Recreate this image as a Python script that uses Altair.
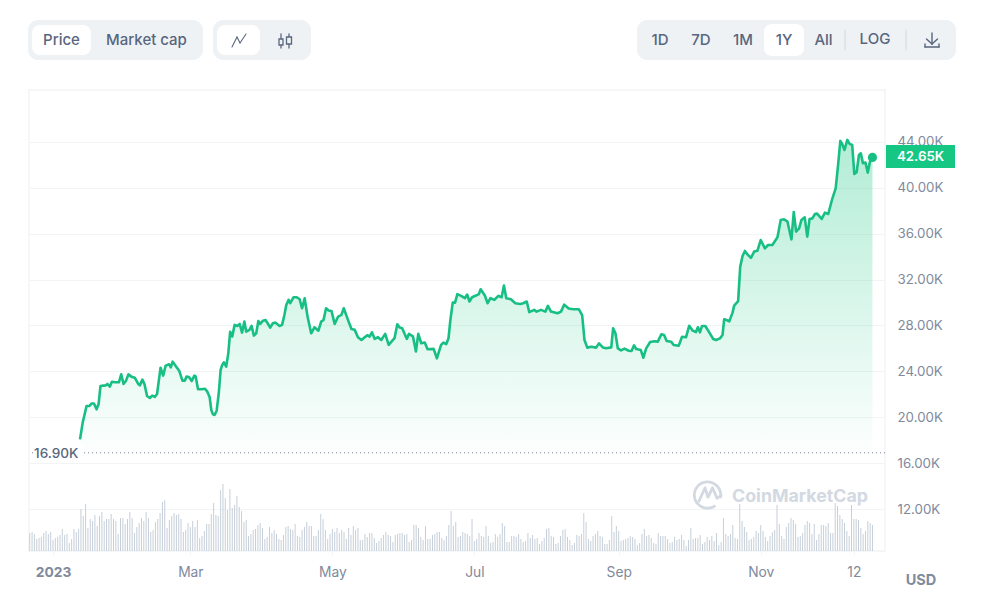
import altair as alt
import pandas as pd

# days since 2023-01-01 and BTC price in thousand USD
price_days = [
    11.6, 12.7, 14.4, 15.6, 16.6, 17.6, 18.7, 19.6, 20.4, 21.6, 22.7, 23.4, 24.4, 25.3, 26.6, 28.3,
    29.3, 30.3, 31.3, 32.4, 33.7, 35.1, 36.6, 37.3, 38.4, 39.3, 40.4, 41.6, 42.6, 43.7, 44.7, 46.2,
    47.3, 48.4, 49.9, 50.6, 51.4, 52.7, 54.2, 55.6, 56.6, 57.3, 58.4, 59.6, 60.7, 61.3, 62.3, 63.7,
    65.2, 66.3, 67.3, 68.0, 68.7, 69.4, 70.3, 71.2, 72.0, 72.7, 73.4, 74.4, 75.3, 76.1, 77.0, 78.0,
    79.2, 80.2, 81.2, 82.2, 83.0, 84.4, 85.3, 86.3, 87.3, 88.2, 89.0, 90.2, 91.3, 92.4, 93.3, 94.4,
    95.6, 97.3, 98.4, 99.4, 100.2, 101.2, 101.9, 103.3, 104.7, 105.9, 107.0, 108.1, 109.4, 110.9, 112.3, 114.0,
    115.2, 116.2, 117.3, 118.4, 119.6, 121.0, 122.5, 123.9, 124.9, 126.7, 128.2, 129.6, 131.0, 132.5, 133.9, 135.0,
    136.0, 137.0, 138.2, 139.6, 141.0, 142.7, 144.2, 146.7, 147.9, 148.9, 150.0, 152.0, 152.9, 154.6, 155.9, 156.9,
    158.2, 159.7, 160.9, 163.5, 164.9, 166.7, 167.7, 168.9, 169.9, 170.7, 171.7, 172.7, 173.7, 175.3, 176.9, 177.9,
    178.9, 180.0, 181.7, 182.9, 183.7, 185.5, 186.7, 187.9, 189.6, 191.3, 192.7, 193.7, 194.7, 196.7, 198.6, 200.7,
    202.0, 203.5, 204.6, 206.7, 207.7, 209.6, 211.5, 212.6, 213.9, 216.7, 218.2, 219.6, 221.5, 223.5, 225.9, 227.3,
    228.3, 229.5, 231.2, 233.3, 234.5, 236.2, 237.6, 239.8, 240.6, 241.6, 242.6, 244.0, 245.5, 247.3, 248.5, 249.6,
    250.5, 252.5, 253.6, 254.8, 256.5, 258.3, 259.8, 261.3, 262.5, 263.6, 265.5, 266.6, 268.8, 270.2, 271.9, 273.3,
    274.8, 276.2, 277.0, 277.9, 278.8, 280.2, 281.9, 283.6, 284.8, 286.5, 287.6, 288.3, 289.3, 290.5, 291.9, 292.6,
    294.3, 295.2, 296.2, 297.2, 298.3, 299.8, 301.2, 302.6, 304.0, 305.8, 307.2, 309.0, 311.2, 312.6, 314.0, 315.5,
    317.2, 318.2, 319.2, 320.5, 321.5, 322.9, 324.0, 325.0, 326.2, 327.3, 328.2, 330.2, 331.6, 333.0, 334.8, 336.2,
    337.3, 338.2, 339.0, 340.0, 341.2, 342.2, 343.3, 344.2, 345.2, 346.2, 347.0, 347.9, 349.0, 350.0, 351.0, 352.0,
]
price_k = [
    18.07, 19.47, 20.98, 20.98, 21.2, 21.2, 20.69, 21.16, 22.73, 22.76, 22.78, 22.9, 22.67, 23.1, 23.05, 23.05,
    23.74, 22.9, 23.16, 23.74, 23.54, 23.45, 22.9, 22.78, 23.28, 22.87, 21.85, 21.68, 21.88, 21.77, 22.03, 24.32,
    23.63, 24.5, 24.62, 24.35, 24.85, 24.47, 24.06, 23.19, 23.19, 23.54, 23.51, 23.16, 23.63, 23.54, 22.44, 22.44,
    22.49, 22.23, 21.74, 20.63, 20.25, 20.2, 20.57, 22.09, 24.12, 24.56, 24.79, 24.41, 25.57, 27.46, 27.03, 28.05,
    27.96, 28.13, 27.38, 28.34, 27.46, 27.61, 27.96, 27.12, 27.32, 28.39, 28.13, 28.42, 28.48, 28.13, 27.81, 28.19,
    28.25, 27.96, 28.05, 28.92, 29.79, 30.23, 29.94, 30.46, 30.46, 30.31, 29.5, 30.37, 28.71, 27.32, 27.84, 27.55,
    28.34, 28.48, 29.5, 29.3, 29.27, 28.14, 28.78, 28.92, 29.5, 28.49, 27.7, 27.62, 26.98, 26.74, 26.98, 27.15,
    27.03, 27.41, 26.83, 26.98, 26.74, 27.27, 26.31, 26.89, 28.11, 27.82, 27.76, 26.83, 27.27, 27.06, 25.73, 27.27,
    26.45, 26.51, 25.93, 25.96, 25.14, 26.31, 26.51, 26.37, 26.89, 28.49, 29.99, 29.99, 30.73, 30.58, 30.38, 30.7,
    30.09, 30.46, 30.61, 30.73, 31.16, 30.61, 29.94, 30.38, 30.23, 30.58, 30.46, 31.48, 30.38, 30.29, 29.94, 29.88,
    29.94, 30.09, 29.16, 29.36, 29.21, 29.36, 29.21, 29.71, 29.21, 29.07, 29.21, 29.82, 29.48, 29.42, 29.41, 28.91,
    26.73, 26.07, 26.15, 26.07, 26.44, 26.09, 26.01, 26.09, 27.75, 27.32, 26.01, 25.83, 25.98, 25.8, 25.77, 26.27,
    25.95, 25.86, 25.19, 26.01, 26.56, 26.62, 26.59, 27.23, 27.17, 26.65, 26.59, 26.3, 26.24, 27.02, 26.97, 27.98,
    27.55, 27.43, 27.84, 27.4, 27.96, 27.96, 27.4, 26.82, 26.73, 26.88, 27.17, 28.54, 28.48, 28.36, 29.12, 29.73,
    30.13, 33.13, 34.06, 34.5, 34.2, 33.89, 34.44, 34.52, 35.45, 34.73, 35.02, 35.02, 35.69, 37.2, 37.26, 37.05,
    35.51, 37.9, 36.18, 36.47, 37.2, 37.43, 35.75, 37.29, 37.34, 37.72, 37.75, 37.29, 37.84, 37.72, 39.09, 39.96,
    42.14, 44.09, 43.83, 43.3, 44.18, 43.83, 43.74, 41.21, 41.36, 42.87, 43.01, 42.14, 42.2, 41.33, 42.37, 42.65,
]

# daily volume in billion USD, one bar per day from 2022-12-22
volume_bn = [
    18, 19, 17, 12, 13, 14, 18, 20, 17, 19, 11, 13, 14, 16, 22, 16, 17, 8, 12, 22, 19, 22, 42, 35, 47,
    23, 32, 30, 36, 25, 35, 39, 30, 32, 32, 37, 32, 30, 17, 33, 33, 27, 32, 39, 33, 18, 24, 28, 33, 30,
    39, 33, 19, 21, 29, 32, 38, 49, 51, 23, 31, 35, 38, 36, 37, 32, 19, 21, 28, 24, 30, 24, 31, 13, 15,
    20, 27, 27, 37, 48, 36, 35, 61, 67, 53, 41, 62, 43, 46, 55, 44, 40, 29, 31, 15, 17, 21, 22, 26, 28,
    23, 12, 14, 24, 18, 21, 17, 12, 11, 16, 24, 25, 22, 21, 27, 15, 14, 21, 24, 29, 25, 25, 15, 15, 21,
    37, 32, 21, 12, 17, 22, 19, 23, 18, 21, 19, 12, 23, 16, 25, 21, 23, 11, 11, 17, 14, 18, 18, 13, 8,
    10, 13, 16, 19, 16, 15, 9, 16, 17, 18, 18, 16, 17, 9, 11, 26, 26, 23, 14, 11, 25, 12, 12, 16, 17,
    19, 19, 13, 11, 15, 26, 40, 25, 29, 14, 15, 19, 18, 17, 15, 32, 10, 12, 18, 15, 14, 25, 15, 8, 9,
    17, 14, 17, 28, 25, 9, 9, 15, 15, 14, 17, 12, 9, 10, 18, 13, 16, 12, 13, 7, 10, 13, 22, 23, 15,
    14, 7, 8, 15, 21, 22, 14, 11, 6, 8, 16, 15, 17, 38, 29, 12, 10, 15, 17, 20, 15, 14, 7, 7, 11,
    35, 19, 25, 20, 10, 11, 12, 13, 15, 14, 12, 6, 8, 17, 22, 15, 16, 13, 8, 7, 18, 15, 15, 15, 12,
    8, 9, 14, 11, 12, 16, 11, 5, 11, 23, 12, 13, 13, 16, 7, 9, 14, 11, 15, 10, 18, 6, 9, 33, 17,
    15, 17, 26, 13, 12, 47, 30, 24, 19, 11, 12, 14, 20, 18, 26, 20, 14, 10, 15, 19, 21, 46, 27, 15, 12,
    24, 28, 33, 31, 27, 14, 15, 18, 26, 30, 28, 17, 27, 11, 17, 26, 26, 25, 28, 18, 18, 48, 45, 36, 32,
    28, 20, 15, 46, 32, 32, 31, 23, 17, 20, 30, 28, 26,
]

y_ticks = [44, 40, 36, 32, 28, 24, 20, 16, 12]
x_ticks = ["2023-01-01T00:00:00", "2023-03-01T00:00:00", "2023-05-01T00:00:00", "2023-07-01T00:00:00",
           "2023-09-01T00:00:00", "2023-11-01T00:00:00", "2023-12-11T00:00:00"]
month_labels = ["2023", "", "Mar", "", "May", "", "Jul", "", "Sep", "", "Nov", "12"]
low_price = 16.9
last_label = "42.65K"

GREEN = "#16c784"
LINE = "#18bf84"
GRID = "#f2f4f6"
PILL = "#eff2f5"
SLATE = "#58667e"
GREY = "#808a9d"
FONT = "Inter"

start = pd.Timestamp("2023-01-01")
prices = pd.DataFrame({
    "date": start + pd.to_timedelta(price_days, unit="D"),
    "price": price_k,
    "low": low_price,
})
volumes = pd.DataFrame({
    "date": pd.date_range("2022-12-22", periods=len(volume_bn)),
    "volume": volume_bn,
})

x_enc = alt.X(
    "date:T",
    title=None,
    scale=alt.Scale(domain=["2022-12-21T16:33:00", "2023-12-24T09:21:00"]),
    axis=alt.Axis(
        values=x_ticks,
        labelExpr="%s[month(datum.value)]" % str(month_labels),
        labelFontWeight={"condition": {"test": "month(datum.value) == 0", "value": "bold"}, "value": "normal"},
        labelColor=GREY,
        labelFontSize=13.8,
        labelFont=FONT,
        labelPadding=10,
        tickColor=GRID,
        tickSize=4,
        domain=False,
        grid=False,
        labelFlush=False,
    ),
)
price_scale = alt.Scale(domain=[8.34, 48.53], nice=False, zero=False)
y_plain = alt.Y("price:Q", title=None, scale=price_scale, axis=None)

blank = alt.Data(values=[{}])


def px(v):
    return alt.value(v - 29)


def py(v):
    return alt.value(v - 90)


def seg(x1, y1, x2, y2, color, width=1.5, **kw):
    return alt.Chart(blank).mark_rule(color=color, strokeWidth=width, strokeCap="round", **kw).encode(
        x=px(x1), x2=px(x2), y=py(y1), y2=py(y2)
    )


def box(x1, y1, x2, y2, color, radius=0, **kw):
    return alt.Chart(blank).mark_rect(color=color, cornerRadius=radius, **kw).encode(
        x=px(x1), x2=px(x2), y=py(y1), y2=py(y2)
    )


def label(text, x, y, color=SLATE, size=15, weight=500, align="center"):
    return alt.Chart(blank).mark_text(
        font=FONT, fontSize=size, fontWeight=weight, color=color, align=align, baseline="middle"
    ).encode(x=px(x), y=py(y), text=alt.value(text))


# price axis and grid
axis_layer = alt.Chart(prices).mark_line(opacity=0).encode(
    x=x_enc,
    y=alt.Y(
        "price:Q",
        title=None,
        scale=price_scale,
        axis=alt.Axis(
            orient="right",
            values=y_ticks,
            labelExpr="format(datum.value, '.2f') + 'K'",
            labelColor=GREY,
            labelFontSize=13.3,
            labelFont=FONT,
            labelPadding=12,
            tickSize=0,
            domain=False,
            gridColor=GRID,
            gridWidth=1,
        ),
    ),
)

frame = [
    seg(29, 90, 29, 551, GRID),
    seg(29, 90, 885, 90, GRID),
    seg(885, 90, 885, 551, GRID),
    seg(29, 551, 885, 551, GRID),
]

volume_layer = alt.Chart(volumes).mark_rule(color="#c0c9d4", strokeWidth=0.9).encode(
    x=x_enc,
    y=alt.Y("volume:Q", title=None, scale=alt.Scale(domain=[0, 461], nice=False), axis=None),
    y2=alt.datum(0),
)

area_layer = alt.Chart(prices).mark_area(
    line=False,
    color=alt.Gradient(
        gradient="linear",
        x1=0, x2=0, y1=0, y2=1,
        stops=[
            alt.GradientStop(color="rgba(22,199,132,0.33)", offset=0),
            alt.GradientStop(color="rgba(22,199,132,0.01)", offset=1),
        ],
    ),
).encode(x=x_enc, y=y_plain, y2=alt.Y2("low:Q"))

low_rule = alt.Chart(prices.tail(1)).mark_rule(color="#7e8794", strokeWidth=1, strokeDash=[1, 3]).encode(
    y=alt.Y("low:Q", title=None, scale=price_scale, axis=None)
)
low_text = alt.Chart(prices.tail(1)).transform_calculate(
    txt="format(datum.low, '.2f') + 'K'"
).mark_text(
    font=FONT, fontSize=13.6, fontWeight=500, color=SLATE, align="left", baseline="middle", dy=1
).encode(
    x=px(34),
    y=alt.Y("low:Q", title=None, scale=price_scale, axis=None),
    text="txt:N",
)
low_mask = box(33, 444, 84, 462, "white")

line_layer = alt.Chart(prices).mark_line(color=LINE, strokeWidth=2.6, strokeJoin="round").encode(x=x_enc, y=y_plain)
last_dot = alt.Chart(prices.tail(1)).mark_point(filled=True, color=LINE, opacity=1, size=85).encode(x=x_enc, y=y_plain)

tag = [
    box(886, 145, 955, 168, GREEN),
    label(last_label, 920.5, 156.5, color="white", size=13.3, weight=600),
]

top_bar = [
    box(28, 20, 203, 60, PILL, radius=10),
    box(32, 25, 91, 55, "white", radius=8),
    label("Price", 61.5, 40),
    label("Market cap", 146.5, 40),
    box(213, 20, 311, 60, PILL, radius=10),
    box(217, 25, 260, 55, "white", radius=8),
    seg(232, 47, 237, 37, SLATE, 1.1),
    seg(237, 37, 240, 43, SLATE, 1.1),
    seg(240, 43, 246, 34, SLATE, 1.1),
    seg(281, 34, 281, 48, SLATE, 1.3),
    seg(289, 34, 289, 48, SLATE, 1.3),
    box(279, 39, 283, 45, "#eff2f5", stroke=SLATE, strokeWidth=1.3),
    box(286.5, 37, 291.5, 44, "#eff2f5", stroke=SLATE, strokeWidth=1.3),
    box(637, 20, 956, 60, PILL, radius=10),
    box(764, 24, 804, 56, "white", radius=8),
    label("1D", 660, 40),
    label("7D", 701, 40),
    label("1M", 743, 40),
    label("1Y", 784, 40),
    label("All", 823.5, 40),
    seg(845, 30, 845, 50, "#cfd6e4", 1),
    label("LOG", 875, 39),
    seg(906, 30, 906, 50, "#cfd6e4", 1),
    seg(932, 33, 932, 44, SLATE, 1.4),
    seg(926.5, 39, 932, 44, SLATE, 1.4),
    seg(937.5, 39, 932, 44, SLATE, 1.4),
    seg(925, 44, 925, 47, SLATE, 1.4),
    seg(925, 47, 939, 47, SLATE, 1.4),
    seg(939, 47, 939, 44, SLATE, 1.4),
]

LOGO = "#d3d9e2"
logo_ring = alt.Chart(blank).mark_arc(
    color=LOGO, innerRadius=11.8, outerRadius=14.6, theta=2.5, theta2=8.1
).encode(x=px(707.5), y=py(495))
watermark = [
    logo_ring,
    seg(699, 501, 705, 488, LOGO, 2.8),
    seg(705, 488, 708, 497, LOGO, 2.8),
    seg(708, 497, 712.5, 488, LOGO, 2.8),
    seg(712.5, 488, 717, 498, LOGO, 2.8),
    seg(717, 498, 721, 496, LOGO, 2.8),
    label("CoinMarketCap", 732, 497, color=LOGO, size=17.8, weight=700, align="left"),
]

usd = label("USD", 921, 581, color=GREY, size=14.5, weight=700)

chart = alt.layer(
    axis_layer,
    *frame,
    volume_layer,
    area_layer,
    low_rule,
    low_mask,
    low_text,
    line_layer,
    last_dot,
    *tag,
    *watermark,
    *top_bar,
    usd,
).resolve_scale(y="independent").properties(
    width=856,
    height=461,
    padding={"left": 21, "top": 82, "right": 91, "bottom": 53},
    autosize=alt.AutoSizeParams(type="none"),
    background="white",
).configure_view(stroke=None)

chart.save("out.html", embed_options={"renderer": "svg", "actions": False})
